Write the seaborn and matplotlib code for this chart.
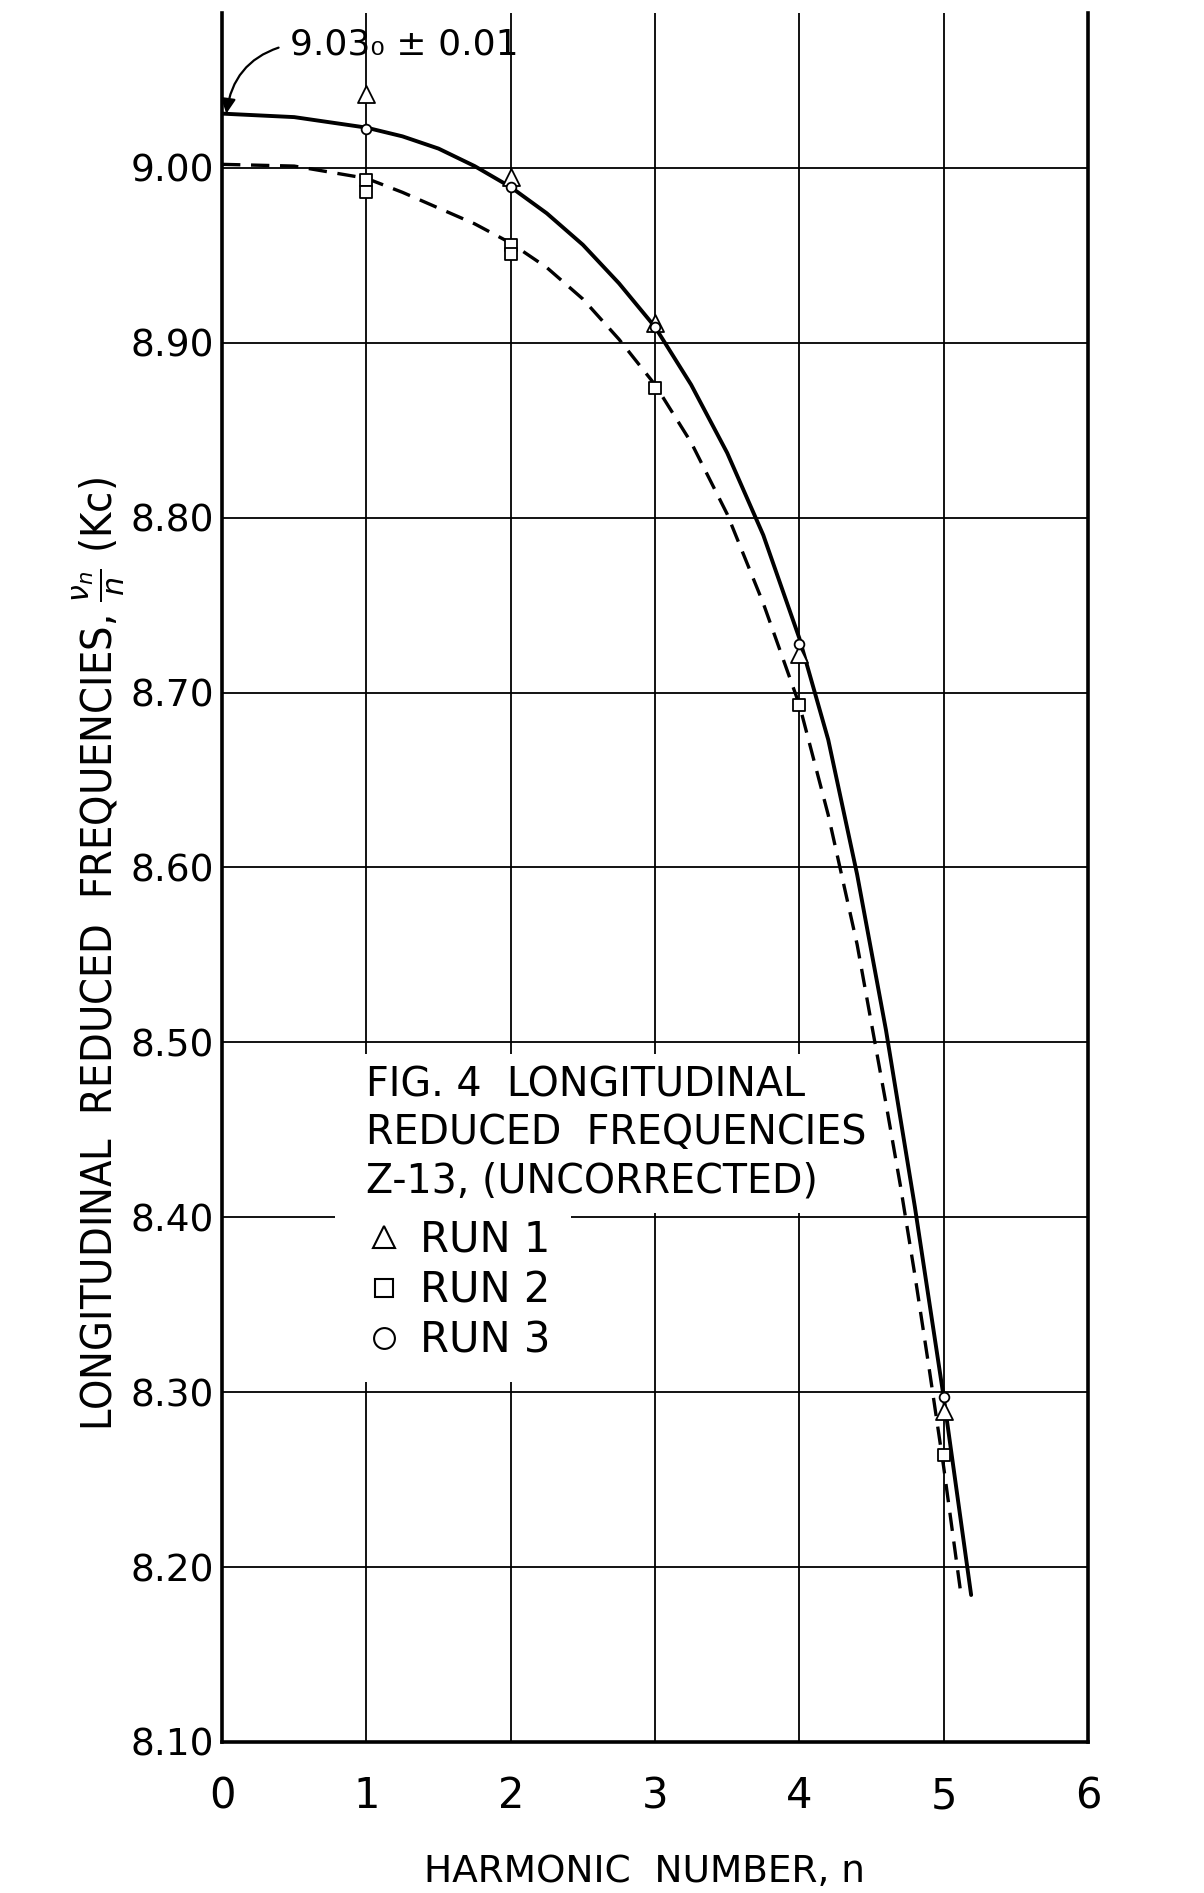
import matplotlib
matplotlib.use("Agg")
import matplotlib.pyplot as plt
import seaborn as sns
from matplotlib.lines import Line2D

# measured reduced frequencies (Kc) against harmonic number n
run1_n = [1, 2, 3, 4, 5]
run1_f = [9.042, 8.995, 8.911, 8.722, 8.289]
run2_n = [1, 1, 2, 2, 3, 4, 5]
run2_f = [8.993, 8.986, 8.956, 8.951, 8.874, 8.693, 8.264]
run3_n = [1, 2, 3, 4, 5]
run3_f = [9.022, 8.989, 8.909, 8.728, 8.297]

# faired curves
solid_n = [0.00, 0.50, 1.00, 1.25, 1.50, 1.75, 2.00, 2.25, 2.50, 2.75, 3.00, 3.25,
           3.50, 3.75, 4.00, 4.20, 4.40, 4.60, 4.80, 5.00, 5.19]
solid_f = [9.031, 9.029, 9.023, 9.018, 9.011, 9.001, 8.989, 8.974, 8.956, 8.934, 8.909, 8.876,
           8.837, 8.790, 8.731, 8.673, 8.596, 8.507, 8.406, 8.297, 8.184]
dashed_n = [0.00, 0.50, 1.00, 1.25, 1.50, 1.75, 2.00, 2.25, 2.50, 2.75, 3.00, 3.25,
            3.50, 3.75, 4.00, 4.20, 4.40, 4.60, 4.70, 4.80, 4.90, 5.00, 5.12]
dashed_f = [9.002, 9.001, 8.994, 8.986, 8.977, 8.968, 8.957, 8.943, 8.925, 8.902, 8.876, 8.843,
            8.802, 8.751, 8.693, 8.630, 8.556, 8.465, 8.418, 8.367, 8.313, 8.257, 8.184]

x_ticks = [0, 1, 2, 3, 4, 5, 6]
y_ticks = [8.10, 8.20, 8.30, 8.40, 8.50, 8.60, 8.70, 8.80, 8.90, 9.00]
y_ticklabels = ["8.10", "8.20", "8.30", "8.40", "8.50", "8.60", "8.70", "8.80", "8.90", "9.00"]
run_labels = ["RUN 1", "RUN 2", "RUN 3"]

sns.set_style("white")
plt.rcParams['font.family'] = ['DejaVu Sans']
plt.rcParams['text.color'] = 'black'
plt.rcParams['axes.labelcolor'] = 'black'
plt.rcParams['xtick.color'] = 'black'
plt.rcParams['ytick.color'] = 'black'

fig = plt.figure(figsize=(12.04, 18.93), dpi=100)
ax = fig.add_axes([0.1844, 0.0798, 0.7193, 0.9134])

# faired curves
sns.lineplot(x=solid_n, y=solid_f, ax=ax, color='black', lw=2.8,
             estimator=None, sort=False, zorder=4)
sns.lineplot(x=dashed_n, y=dashed_f, ax=ax, color='black', lw=2.4,
             linestyle=(0, (5.5, 3.2)), estimator=None, sort=False, zorder=4)

# data points, hollow markers
sns.scatterplot(x=run1_n, y=run1_f, ax=ax, marker='^', s=150, color='white',
                edgecolor='black', linewidth=1.3, zorder=5)
sns.scatterplot(x=run2_n, y=run2_f, ax=ax, marker='s', s=64, color='white',
                edgecolor='black', linewidth=1.3, zorder=5)
sns.scatterplot(x=run3_n, y=run3_f, ax=ax, marker='o', s=49, color='white',
                edgecolor='black', linewidth=1.3, zorder=5)

ax.set_xlim(0, 6)
ax.set_ylim(8.10, 9.0886)
ax.set_xticks(x_ticks)
ax.set_xticklabels([str(t) for t in x_ticks], fontsize=30)
ax.set_yticks(y_ticks)
ax.set_yticklabels(y_ticklabels, fontsize=27)
ax.tick_params(axis='both', length=0)
ax.tick_params(axis='x', pad=24)
ax.tick_params(axis='y', pad=6)

ax.grid(True, color='black', lw=1.3)
ax.set_axisbelow(True)
ax.spines['top'].set_visible(False)
for side in ['left', 'bottom', 'right']:
    ax.spines[side].set_color('black')
    ax.spines[side].set_linewidth(2.6)

ax.set_xlabel("HARMONIC  NUMBER, n", fontsize=27)
ax.xaxis.set_label_coords(0.488, -0.065)
ax.set_ylabel(r"LONGITUDINAL  REDUCED  FREQUENCIES, $\frac{\nu_n}{n}$ (Kc)",
              fontsize=31, fontstretch='condensed')
ax.yaxis.set_label_coords(-0.110, 0.456)

# value of the solid curve at n = 0
ax.annotate("9.03\u2080 \u00b1 0.01", xy=(0.03, 9.031), xytext=(0.47, 9.0705),
            fontsize=26, ha='left', va='center',
            arrowprops=dict(arrowstyle='-|>', color='black', lw=1.6,
                            connectionstyle='arc3,rad=0.35', relpos=(0, 0.5),
                            shrinkA=6, shrinkB=0, mutation_scale=22))

# figure caption inside the grid
ax.text(1.0, 8.487, "FIG. 4  LONGITUDINAL\nREDUCED  FREQUENCIES\nZ-13, (UNCORRECTED)",
        fontsize=28.5, ha='left', va='top', linespacing=1.27, zorder=3,
        bbox=dict(facecolor='white', edgecolor='none', pad=8))

handles = [
    Line2D([], [], marker='^', ls='none', ms=16, mfc='white', mec='black', mew=1.5),
    Line2D([], [], marker='s', ls='none', ms=13, mfc='white', mec='black', mew=1.5),
    Line2D([], [], marker='o', ls='none', ms=15, mfc='white', mec='black', mew=1.5),
]
leg = ax.legend(handles, run_labels, loc='upper left', bbox_to_anchor=(0.78, 8.411),
                bbox_transform=ax.transData, borderaxespad=0, borderpad=0.5,
                handlelength=1.35, handletextpad=0.2, labelspacing=0.2,
                prop=dict(family='DejaVu Sans', size=30), frameon=True,
                framealpha=1, facecolor='white', edgecolor='none', fancybox=False)

fig.savefig("out.png", dpi=100, facecolor='white')
